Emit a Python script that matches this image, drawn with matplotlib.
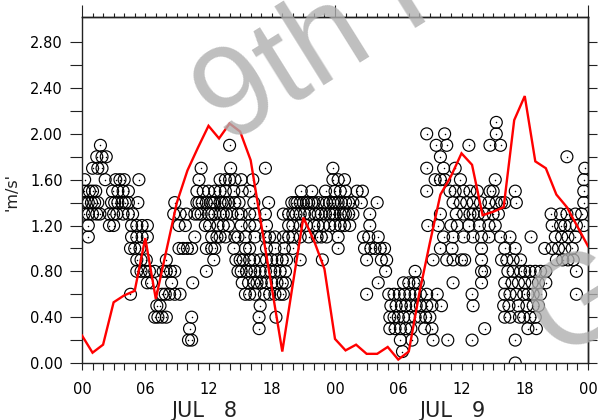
import numpy as np
import matplotlib
matplotlib.use("Agg")
import matplotlib.pyplot as plt
from matplotlib.ticker import MultipleLocator, FixedLocator, FuncFormatter, NullFormatter
from matplotlib.transforms import blended_transform_factory

# Hourly mean wind speed (m/s), hours 0..48 starting JUL 8 00Z
hourly_speed = [0.24, 0.09, 0.16, 0.53, 0.59, 0.63, 1.09, 0.56, 0.98, 1.40,
                1.68, 1.88, 2.07, 1.96, 2.09, 2.02, 1.77, 1.21, 0.66, 0.10,
                0.69, 1.27, 1.07, 0.82, 0.21, 0.11, 0.16, 0.08, 0.08, 0.14,
                0.03, 0.10, 0.61, 1.05, 1.47, 1.63, 1.83, 1.73, 1.29, 1.32,
                1.36, 2.12, 2.33, 1.76, 1.70, 1.47, 1.36, 1.19, 1.02]

# Individual observations: times (hours since JUL 8 00Z) at each reported speed
t_v21 = [39.3]
t_v20 = [32.7, 34.4, 39.3]
t_v19 = [1.75, 14.0, 33.6, 34.6, 36.7, 38.7, 39.7]
t_v18 = [1.4, 1.9, 2.3, 34.0, 46.0]
t_v17 = [1.0, 1.5, 1.9, 11.3, 14.1, 17.4, 23.8, 32.7, 34.3, 35.4, 47.7]
t_v16 = [0.25, 2.2, 3.2, 3.6, 4.0, 5.4, 11.1, 13.1, 13.6, 14.0, 14.5, 15.1,
         16.2, 23.8, 24.3, 24.9, 33.5, 34.0, 34.4, 35.9, 39.2, 47.6]
t_v15 = [0.2, 0.7, 1.0, 1.3, 2.9, 3.4, 3.9, 4.4, 10.9, 11.5, 12.0, 12.6,
         13.1, 13.6, 14.4, 15.2, 15.9, 20.8, 21.8, 23.1, 24.0, 24.5, 25.0,
         26.1, 26.6, 32.7, 34.9, 35.4, 36.2, 36.8, 37.5, 38.7, 39.0, 41.1, 47.6]
t_v14 = [0.0, 0.3, 0.6, 0.9, 1.2, 1.5, 2.8, 3.1, 3.4, 3.8, 4.1, 4.4, 5.3,
         8.8, 10.9, 11.1, 11.4, 11.8, 12.2, 12.4, 12.6, 13.1, 13.3, 13.6,
         13.9, 14.5, 14.9, 16.3, 17.7, 19.9, 20.2, 20.4, 20.7, 21.0, 21.3,
         21.5, 21.8, 22.0, 22.4, 22.9, 23.2, 23.5, 23.8, 24.0, 24.3, 24.6,
         25.0, 25.3, 25.7, 26.5, 28.0, 35.2, 35.9, 36.5, 37.1, 37.8, 38.6,
         39.3, 39.8, 40.1, 41.2, 47.6]
t_v13 = [0.2, 0.6, 1.0, 1.4, 1.7, 2.6, 3.0, 3.3, 3.9, 4.4, 4.8, 8.7, 9.3,
         9.9, 10.7, 11.0, 11.3, 12.0, 12.3, 12.6, 13.1, 13.4, 13.7, 14.2,
         14.8, 15.1, 15.9, 16.4, 17.4, 19.1, 19.6, 20.0, 20.3, 20.7, 21.1,
         21.6, 22.1, 22.4, 22.7, 23.1, 23.5, 23.8, 24.0, 24.5, 24.8, 25.0,
         25.3, 25.7, 27.3, 34.0, 35.5, 36.2, 36.8, 37.1, 37.6, 38.2, 39.0,
         39.5, 44.5, 45.4, 46.0, 46.8, 47.4]
t_v12 = [0.6, 2.6, 3.0, 4.7, 5.2, 5.7, 6.2, 9.2, 9.8, 11.7, 12.1, 12.9,
         13.4, 13.9, 15.1, 15.9, 16.4, 17.5, 19.6, 20.0, 20.7, 21.3, 22.0,
         22.4, 22.9, 23.5, 24.0, 24.5, 24.9, 25.4, 27.3, 32.8, 33.8, 35.0,
         35.6, 36.7, 37.7, 38.6, 39.2, 44.6, 45.4, 45.8, 46.3, 46.9, 47.6]
t_v11 = [0.6, 4.7, 5.2, 5.7, 6.2, 10.7, 12.3, 12.8, 13.1, 13.6, 14.5, 14.8,
         15.5, 16.4, 17.4, 17.8, 18.3, 19.1, 19.6, 20.0, 20.7, 21.5, 22.3,
         22.7, 23.2, 24.3, 26.7, 27.2, 28.1, 34.3, 35.2, 36.2, 37.1, 37.9,
         38.6, 39.7, 40.6, 42.6, 44.9, 45.5, 46.1, 46.8]
t_v10 = [4.6, 5.0, 5.5, 9.2, 9.6, 10.0, 10.4, 11.8, 12.3, 12.6, 14.4, 15.5,
         15.9, 17.5, 18.3, 19.2, 20.0, 24.3, 26.8, 27.4, 27.8, 28.3, 28.7,
         34.0, 35.1, 37.9, 40.1, 41.1, 43.9, 44.6, 45.2, 45.8, 46.5]
t_v09 = [5.2, 5.6, 6.1, 8.0, 12.5, 14.6, 15.0, 15.3, 15.9, 16.3, 16.9, 17.5,
         18.0, 18.5, 19.0, 19.4, 20.7, 22.8, 27.0, 28.4, 28.9, 33.3, 34.6,
         35.2, 36.0, 36.3, 37.9, 39.8, 40.3, 40.9, 41.6, 45.0, 45.6, 46.1, 46.6]
t_v08 = [5.2, 5.6, 6.0, 6.4, 6.9, 7.7, 8.0, 8.4, 8.8, 11.8, 14.8, 15.1, 15.6,
         16.0, 16.4, 16.9, 17.4, 17.9, 18.3, 18.8, 19.3, 28.8, 31.6, 37.9,
         38.2, 40.4, 40.9, 41.6, 42.0, 42.5, 43.0, 43.5, 44.0, 46.9]
t_v07 = [6.2, 6.6, 8.5, 10.5, 15.2, 15.8, 16.3, 16.6, 17.0, 17.5, 18.0, 18.5,
         19.0, 19.3, 28.1, 30.5, 31.0, 31.5, 31.9, 35.2, 37.9, 40.1, 40.8,
         41.4, 42.0, 42.7, 43.3, 44.0]
t_v06 = [4.6, 7.6, 7.9, 8.3, 8.8, 9.3, 15.5, 15.9, 16.4, 17.3, 17.8, 18.3,
         18.8, 19.1, 27.0, 29.1, 29.6, 30.1, 30.6, 31.1, 31.6, 32.1, 32.7,
         33.7, 37.0, 40.1, 40.6, 41.2, 41.9, 42.3, 42.8, 43.5, 46.9]
t_v05 = [7.1, 7.4, 16.9, 29.3, 29.8, 30.3, 30.7, 31.2, 31.7, 32.1, 32.7, 33.2,
         34.1, 37.1, 40.0, 40.5, 41.4, 42.2, 42.8, 43.3]
t_v04 = [6.9, 7.2, 7.6, 8.0, 10.4, 16.8, 18.4, 29.2, 29.6, 30.0, 30.5, 31.0,
         31.6, 32.1, 32.6, 33.0, 40.1, 40.6, 41.5, 41.9, 42.5, 43.0]
t_v03 = [10.2, 16.8, 29.2, 29.7, 30.2, 30.7, 31.2, 32.5, 33.2, 38.2, 42.3, 43.1]
t_v02 = [10.1, 10.4, 30.2, 31.3, 33.3, 34.7, 37.0, 41.1]
t_v01 = [30.4]
t_v00 = [41.1]

speed_levels = [2.1, 2.0, 1.9, 1.8, 1.7, 1.6, 1.5, 1.4, 1.3, 1.2, 1.1, 1.0,
                0.9, 0.8, 0.7, 0.6, 0.5, 0.4, 0.3, 0.2, 0.1, 0.0]
level_times = [t_v21, t_v20, t_v19, t_v18, t_v17, t_v16, t_v15, t_v14, t_v13,
               t_v12, t_v11, t_v10, t_v09, t_v08, t_v07, t_v06, t_v05, t_v04,
               t_v03, t_v02, t_v01, t_v00]

hour_labels = ["00", "06", "12", "18", "00", "06", "12", "18", "00"]
day_labels = ["JUL   8", "JUL   9"]
day_label_hours = [11.6, 35.1]

obs_t = np.concatenate([np.asarray(t, float) for t in level_times])
obs_v = np.concatenate([np.full(len(t), v) for v, t in zip(speed_levels, level_times)])

W, H = 598, 420
fig = plt.figure(figsize=(W / 100, H / 100), dpi=100)
ax = fig.add_axes([82 / W, (H - 363) / H, 506 / W, 346 / H])

# observations: open circles with a centre dot
ax.scatter(obs_t, obs_v, s=74, facecolors="none", edgecolors="black",
           linewidths=0.85, zorder=2)
ax.scatter(obs_t, obs_v, s=1.2, color="black", linewidths=0, zorder=2)

# hourly mean
ax.plot(np.arange(len(hourly_speed)), hourly_speed, color="#ff0000",
        lw=1.7, zorder=3, solid_joinstyle="miter")

ax.set_xlim(0, 48)
ax.set_ylim(0, 3.02)

for sp in ax.spines.values():
    sp.set_linewidth(1.0)
    sp.set_color("#222222")

# bottom axis: hourly ticks, labels every 6 h
ax.xaxis.set_major_locator(MultipleLocator(6))
ax.xaxis.set_minor_locator(MultipleLocator(1))
ax.xaxis.set_major_formatter(FuncFormatter(lambda x, p: hour_labels[int(round(x / 6))]
                                           if 0 <= int(round(x / 6)) < len(hour_labels) else ""))
ax.tick_params(axis="x", which="both", direction="out", length=5.2, width=0.8,
               color="#222222", pad=8.2, labelsize=10.5)

# left axis: ticks every 0.2, labels every 0.4
ax.yaxis.set_major_locator(FixedLocator(np.arange(0, 2.81, 0.4)))
ax.yaxis.set_minor_locator(FixedLocator(np.arange(0.2, 3.0, 0.4)))
ax.yaxis.set_major_formatter(FuncFormatter(lambda y, p: f"{y:.2f}"))
ax.tick_params(axis="y", which="both", direction="out", length=8.6, width=0.8,
               color="#222222", pad=5, labelsize=10.5)

# top axis: hourly ticks, long ticks at day boundaries
top = ax.secondary_xaxis("top")
top.xaxis.set_major_locator(FixedLocator([0, 24, 48]))
top.xaxis.set_minor_locator(MultipleLocator(1))
top.xaxis.set_major_formatter(NullFormatter())
top.tick_params(which="major", direction="out", length=8.6, width=0.8, color="#222222")
top.tick_params(which="minor", direction="out", length=2.9, width=0.8, color="#222222")
top.spines["top"].set_linewidth(1.0)

# right axis: ticks every 0.2
right = ax.secondary_yaxis("right")
right.yaxis.set_major_locator(FixedLocator(np.arange(0, 3.0, 0.2)))
right.yaxis.set_major_formatter(NullFormatter())
right.tick_params(direction="out", length=6.5, width=0.8, color="#222222")
right.spines["right"].set_linewidth(1.0)

# date labels under the hour labels
trans = blended_transform_factory(ax.transData, fig.transFigure)
for hx, lab in zip(day_label_hours, day_labels):
    ax.text(hx, 3.3 / H, lab, transform=trans, ha="center", va="baseline",
            fontsize=15, color="#222222", clip_on=False)

fig.text(12 / W, (H - 192) / H, "'m/s'", rotation=90, ha="center", va="center",
         fontsize=11.5, color="#222222")

# watermark
wm_kw = dict(color="#afafaf", alpha=0.8, family="Liberation Sans",
             fontsize=92, rotation=32, rotation_mode="anchor", zorder=10)
fig.text(226 / W, (H - 146) / H, "9th Ha", ha="left", va="baseline", **wm_kw)
fig.text(582 / W, (H - 305) / H, "G", ha="center", va="center", **wm_kw)

fig.savefig("out.png", dpi=100)
